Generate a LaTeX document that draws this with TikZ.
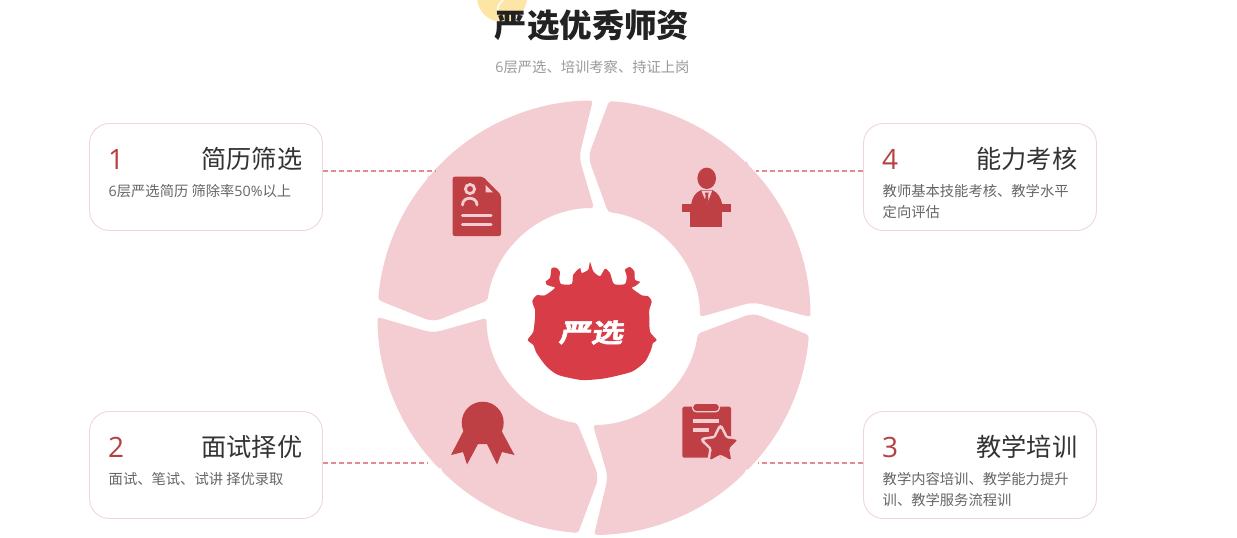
\documentclass[tikz,border=0pt]{standalone}
\usepackage{fontspec}
\setmainfont{Noto Sans CJK SC}
\newfontfamily\oss{Open Sans}
\newfontfamily\logofont[UprightFont=* Bold,FakeBold=1.6]{Noto Sans CJK SC}
\definecolor{segc}{HTML}{F4CDD2}
\definecolor{iconc}{HTML}{BE4045}
\definecolor{logoc}{HTML}{D83C47}
\definecolor{numc}{HTML}{B5403F}
\definecolor{dashc}{HTML}{E48A90}
\definecolor{cardc}{HTML}{F0D5DB}
\definecolor{ttlc}{HTML}{222222}
\definecolor{headc}{HTML}{333333}
\definecolor{bodyc}{HTML}{666666}
\definecolor{subc}{HTML}{999999}
\definecolor{yelc}{HTML}{FDE5A5}
\tikzset{
  seg/.style={fill=segc},
  card/.style={draw=cardc,line width=0.9pt,fill=white,rounded corners=20pt,minimum width=233pt,minimum height=107pt,inner sep=0pt},
  linkline/.style={draw=dashc,line width=2pt,dash pattern=on 5pt off 3pt},
  numtxt/.style={anchor=base west,inner sep=0pt,text=numc,font=\oss\fontsize{28}{32}\selectfont},
  headtxt/.style={anchor=base east,inner sep=0pt,text=headc,font=\fontsize{25.2}{30}\selectfont},
  bodytxt/.style={anchor=base west,inner sep=0pt,text=bodyc,font=\fontsize{14.3}{21}\selectfont},
  lightline/.style={draw=segc,line width=3.2pt,line cap=round},
}
\begin{document}
\begin{tikzpicture}[x=1pt,y=-1pt]
\useasboundingbox (0,0) rectangle (1237,538);
% title
\begin{scope}
\clip (0,0) rectangle (1237,538);
\fill[yelc] (502,-3) circle (25);
\draw[white,line width=1.4pt] (497.5,10) .. controls (498,5) and (500,2) .. (503,0);
\end{scope}
\node[anchor=base,inner sep=0pt,text=ttlc,font=\bfseries\fontsize{32.4}{38}\selectfont] (title) at (592,37) {严选优秀师资};
\node[anchor=base,inner sep=0pt,text=subc,font=\fontsize{14.3}{18}\selectfont] (subtitle) at (592.5,72) {{\oss 6}层严选、培训考察、持证上岗};
% ring
\begin{scope}[shift={(594,317)}]
\fill[seg,rounded corners=3pt] (220:216.5) arc[start angle=220,end angle=269.7,radius=216.5]
  [rounded corners=8pt] -- (-15,-160) [rounded corners=3pt] -- (0,-109)
  arc[start angle=270,end angle=188,radius=107.5]
  [rounded corners=8pt] -- (-161,5) [rounded corners=3pt] -- (184.5:216.5)
  arc[start angle=184.5,end angle=220,radius=216.5] -- cycle;
\fill[seg,rounded corners=3pt] (315:216.5) arc[start angle=315,end angle=360,radius=216.5]
  [rounded corners=8pt] -- (159,-15) [rounded corners=3pt] -- (106,0)
  arc[start angle=360,end angle=277.6,radius=106]
  [rounded corners=8pt] -- (-6,-160) [rounded corners=3pt] -- (274:216.5)
  arc[start angle=274,end angle=315,radius=216.5] -- cycle;
\fill[seg,rounded corners=3pt] (135:216.5) arc[start angle=135,end angle=94.2,radius=216.5]
  [rounded corners=8pt] -- (5,160) [rounded corners=3pt] -- (99:107.5)
  arc[start angle=99,end angle=179.5,radius=107.5]
  [rounded corners=8pt] -- (-161,16) [rounded corners=3pt] -- (180:216.5)
  arc[start angle=180,end angle=135,radius=216.5] -- cycle;
\end{scope}
\begin{scope}[shift={(592.5,318)}]
\fill[seg,rounded corners=3pt] (45:217) arc[start angle=45,end angle=89.6,radius=217]
  [rounded corners=8pt] -- (15.5,159) [rounded corners=3pt] -- (0.5,107)
  arc[start angle=89.7,end angle=8.2,radius=106.5]
  [rounded corners=8pt] -- (160.5,-5) [rounded corners=3pt] -- (4.5:217)
  arc[start angle=4.5,end angle=45,radius=217] -- cycle;
\end{scope}
% cards
\node[card] (card1) at (206,177) {};
\node[card] (card2) at (206,465) {};
\node[card] (card4) at (980,177) {};
\node[card] (card3) at (980,465) {};
\coordinate (e1) at (435,171);
\coordinate (e2) at (428,463);
\coordinate (e4) at (756,171);
\coordinate (e3) at (757.5,463);
\draw[linkline] (card1.east |- e1) -- (e1);
\draw[linkline] (card2.east |- e2) -- (e2);
\draw[linkline] (card4.west |- e4) -- (e4);
\draw[linkline] (card3.west |- e3) -- (e3);
\node[numtxt] (n1) at (108,169) {1};
\node[headtxt] (h1) at (302.5,168) {简历筛选};
\node[bodytxt] (b1) at (108.5,196) {{\oss 6}层严选简历 筛除率{\oss 50\%}以上};
\node[numtxt] (n2) at (108,457) {2};
\node[headtxt] (h2) at (302.5,456) {面试择优};
\node[bodytxt] (b2) at (108.5,484) {面试、笔试、试讲 择优录取};
\node[numtxt] (n4) at (882,169) {4};
\node[headtxt] (h4) at (1077.5,168) {能力考核};
\node[bodytxt] (b4a) at (882.5,196) {教师基本技能考核、教学水平};
\node[bodytxt] (b4b) at (882.5,217) {定向评估};
\node[numtxt] (n3) at (882,457) {3};
\node[headtxt] (h3) at (1077.5,456) {教学培训};
\node[bodytxt] (b3a) at (882.5,484) {教学内容培训、教学能力提升};
\node[bodytxt] (b3b) at (882.5,505) {训、教学服务流程训};
% document icon
\fill[fill=iconc,rounded corners=2pt] (452.7,176.7) -- (483,176.7) -- (501,195) -- (501,236) -- (452.7,236) -- cycle;
\fill[fill=segc] (485.7,185) -- (493,192.3) -- (485.7,192.3) -- cycle;
\draw[segc,line width=2.8pt] (470,189) circle (4.6);
\draw[segc,line width=2.8pt,line cap=round] (462.5,205) .. controls (462.5,196) and (477,196) .. (477,205);
\draw[lightline] (462.5,215.7) -- (491,215.7);
\draw[lightline] (462.5,224.5) -- (491,224.5);
% speaker icon
\fill[fill=iconc] (706.7,178.3) ellipse (9.3 and 10.7);
\fill[fill=iconc] (691,206) .. controls (692,197) and (695,193) .. (701,190) -- (712.5,190) .. controls (718,193) and (721,197) .. (722.5,206) -- cycle;
\fill[fill=iconc] (682.3,204) rectangle (731,211.7);
\fill[fill=iconc] (690,210) rectangle (722.3,227.3);
\fill[fill=segc] (701.3,190.5) -- (712.3,190.5) -- (707,204) -- cycle;
\fill[fill=iconc] (704.8,192.5) -- (708.8,192.5) -- (708,195.5) -- (708.6,201) -- (706.8,204) -- (705,201) -- (705.6,195.5) -- cycle;
% award icon
\fill[fill=iconc] (482.7,422.7) circle (21);
\fill[fill=iconc] (465,428) -- (451,455) -- (463,452) -- (467,464.5) -- (478,444) -- (487,444) -- (497,464.5) -- (502,452) -- (514.5,455) -- (500,428) -- cycle;
% clipboard icon
\fill[fill=iconc,rounded corners=1.5pt] (682.3,406.7) rectangle (731,457.7);
\draw[draw=segc,fill=iconc,line width=1.2pt,rounded corners=4pt] (692.5,403.2) rectangle (719.5,411.8);
\draw[segc,line width=3.6pt] (693.3,420.7) -- (718.5,420.7);
\draw[segc,line width=3.2pt] (693.3,430) -- (708.5,430);
% star: halo first, then the solid star on top
\draw[draw=segc,line width=5pt,line join=round]
 (720.5,427.5) -- (725.8,438.2) -- (737.6,439.9) -- (729.1,448.3) -- (731.1,460) -- (720.5,454.5) -- (709.9,460) -- (711.9,448.3) -- (703.4,439.9) -- (715.2,438.2) -- cycle;
\fill[fill=iconc,rounded corners=1.5pt]
 (720.5,427.5) -- (725.8,438.2) -- (737.6,439.9) -- (729.1,448.3) -- (731.1,460) -- (720.5,454.5) -- (709.9,460) -- (711.9,448.3) -- (703.4,439.9) -- (715.2,438.2) -- cycle;
% logo
\fill[fill=logoc] plot[smooth cycle,tension=.4] coordinates {
 (590,262) (593.3,271.3) (600,276.3) (605,268.7) (610,273) (614,284) (625,284) (626.7,276.3) (625,269.7) (630,267) (634.3,271.3) (635,279.7) (640,282) (635,286.3) (631.7,288) (641.7,295.3) (648.3,296.3) (651.7,301.3) (649.3,309.7) (649.3,317) (650,331.7) (656.7,340) (653,343) (651,350) (645,361.7) (631.7,371.7) (605,378.3) (581.7,380) (558.3,375) (546.7,366.7) (536.7,353.3) (533.3,345) (527.7,340) (533.3,331.7) (535,317) (535,309.7) (532.3,301.3) (536.7,295.3) (545,295.3) (555,288) (551,286.3) (546.7,284.7) (545.7,281.3) (550,278) (551.7,268) (556.7,268) (560,272) (559.3,278) (561,284) (571.7,284) (573.3,274.7) (580,268) (581.7,273) (588.3,269.7)};
\node[inner sep=0pt,text=white,font=\logofont\fontsize{28}{30}\selectfont,xslant=0.2,xscale=1.15,yscale=0.92,transform shape] (logo) at (592.5,332.5) {严选};
\end{tikzpicture}
\end{document}
